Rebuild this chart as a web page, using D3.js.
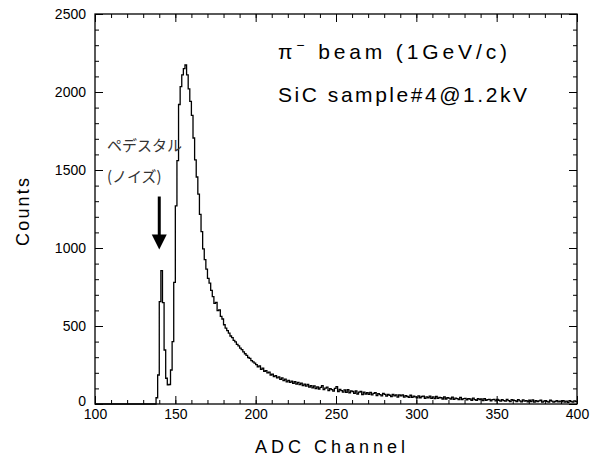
<!DOCTYPE html>
<html>
<head>
<meta charset="utf-8">
<script src="https://cdn.jsdelivr.net/npm/d3@7"></script>
<style>
  body { margin: 0; background: #fff; }
  svg { display: block; }
</style>
</head>
<body>
<div id="canvas"></div>
<script>
var WIDTH = 592, HEIGHT = 459;
var MARGIN = {left: 95, right: 15, top: 14, bottom: 55};

// histogram: counts per ADC channel, first bin starts at FIRST_CHANNEL
var FIRST_CHANNEL = 130;
var counts = [
    0, 0, 0, 0, 0, 0, 0, 0, 40, 186,
    656, 855, 650, 346, 165, 122, 125, 218, 400, 780,
    1270, 1560, 1920, 2035, 2110, 2150, 2173, 2110, 2020, 1940,
    1850, 1705, 1565, 1455, 1345, 1215, 1105, 995, 925, 865,
    805, 775, 728, 688, 645, 652, 598, 604, 562, 545,
    508, 486, 470, 454, 436, 426, 408, 398, 382, 372,
    358, 348, 334, 322, 312, 298, 292, 278, 270, 262,
    252, 238, 244, 222, 230, 210, 214, 200, 204, 186,
    192, 176, 182, 168, 174, 158, 168, 150, 160, 142,
    152, 138, 146, 132, 144, 128, 138, 124, 134, 118,
    128, 114, 126, 108, 118, 104, 116, 98, 110, 96,
    106, 118, 92, 102, 108, 86, 98, 92, 82, 100,
    112, 80, 94, 86, 76, 90, 74, 92, 72, 84,
    80, 68, 84, 64, 76, 80, 60, 76, 64, 72,
    62, 74, 58, 68, 72, 54, 66, 60, 52, 68,
    62, 50, 62, 56, 48, 62, 52, 58, 44, 58,
    52, 58, 44, 54, 48, 42, 56, 42, 50, 46,
    40, 52, 40, 48, 50, 36, 46, 40, 50, 36,
    46, 34, 48, 36, 42, 40, 32, 46, 32, 40,
    38, 32, 44, 30, 38, 34, 28, 42, 28, 34,
    36, 26, 34, 32, 24, 38, 28, 24, 34, 28,
    32, 22, 34, 24, 28, 30, 20, 28, 30, 20,
    30, 24, 18, 28, 22, 18, 30, 22, 16, 28,
    24, 22, 16, 28, 20, 14, 26, 18, 22, 14,
    24, 16, 26, 12, 22, 16, 20, 24, 12, 18,
    22, 16, 12, 24, 18, 12, 16, 22, 14, 18,
    14, 22, 12, 18, 10, 22, 16, 12, 20, 16
];

var xTicks = [100, 150, 200, 250, 300, 350, 400];
var yTicks = [0, 500, 1000, 1500, 2000, 2500];
var xDomain = [100, 400];
var yDomain = [0, 2500];

// arrow pointing at the pedestal peak: [channel, count from, count to]
var arrowChannel = 140.0;
var arrowCounts = [1330, 990];

var svg = d3.select('#canvas').append('svg')
    .attr('width', WIDTH)
    .attr('height', HEIGHT);

var x = d3.scaleLinear().domain(xDomain).range([MARGIN.left, WIDTH - MARGIN.right]);
var y = d3.scaleLinear().domain(yDomain).range([HEIGHT - MARGIN.bottom, MARGIN.top]);

var FONT = '"Liberation Sans", Arial, sans-serif';

function styleAxis(g) {
    g.select('.domain').remove();
    g.selectAll('line').attr('stroke', '#000').attr('stroke-width', 1);
    g.selectAll('text').attr('fill', '#000').style('font-family', FONT).style('font-size', '14px');
}

var minorX = d3.range(100, 401, 10);
var minorY = d3.range(0, 2501, 100);

// bottom
svg.append('g').attr('transform', 'translate(0,' + y(0) + ')')
    .call(d3.axisBottom(x).tickValues(minorX).tickSize(-4).tickFormat(''))
    .call(styleAxis);
svg.append('g').attr('transform', 'translate(0,' + y(0) + ')')
    .call(d3.axisBottom(x).tickValues(xTicks).tickSize(-8).tickPadding(5).tickFormat(d3.format('d')))
    .call(styleAxis);
// top
svg.append('g').attr('transform', 'translate(0,' + y(2500) + ')')
    .call(d3.axisTop(x).tickValues(minorX).tickSize(-4).tickFormat(''))
    .call(styleAxis);
svg.append('g').attr('transform', 'translate(0,' + y(2500) + ')')
    .call(d3.axisTop(x).tickValues(xTicks).tickSize(-8).tickFormat(''))
    .call(styleAxis);
// left
svg.append('g').attr('transform', 'translate(' + x(100) + ',0)')
    .call(d3.axisLeft(y).tickValues(minorY).tickSize(-4).tickFormat(''))
    .call(styleAxis);
var yAxisG = svg.append('g').attr('transform', 'translate(' + x(100) + ',0)')
    .call(d3.axisLeft(y).tickValues(yTicks).tickSize(-8).tickPadding(9).tickFormat(d3.format('d')))
    .call(styleAxis);
// the zero label sits a little higher, clear of the x labels
yAxisG.selectAll('.tick').filter(function(d) { return d === 0; })
    .select('text').attr('dy', '0.1em');
// right
svg.append('g').attr('transform', 'translate(' + x(400) + ',0)')
    .call(d3.axisRight(y).tickValues(minorY).tickSize(-4).tickFormat(''))
    .call(styleAxis);
svg.append('g').attr('transform', 'translate(' + x(400) + ',0)')
    .call(d3.axisRight(y).tickValues(yTicks).tickSize(-8).tickFormat(''))
    .call(styleAxis);

// frame
svg.append('rect')
    .attr('x', x(100))
    .attr('y', y(2500))
    .attr('width', x(400) - x(100))
    .attr('height', y(0) - y(2500))
    .attr('fill', 'none')
    .attr('stroke', '#000')
    .attr('stroke-width', 1.3);

// histogram as steps
var points = [{c: 100, n: 0}];
for (var i = 0; i < counts.length; ++i) {
    points.push({c: FIRST_CHANNEL + i, n: counts[i]});
}
points.push({c: 400, n: counts[counts.length - 1]});

var line = d3.line()
    .x(function(d) { return x(d.c); })
    .y(function(d) { return y(d.n); })
    .curve(d3.curveStepAfter);

svg.append('path')
    .datum(points)
    .attr('d', line)
    .attr('fill', 'none')
    .attr('stroke', '#000')
    .attr('stroke-width', 1.3);

// axis titles
svg.append('text')
    .attr('x', 330)
    .attr('y', 453)
    .attr('text-anchor', 'middle')
    .attr('textLength', 150)
    .attr('lengthAdjust', 'spacing')
    .style('font-family', FONT)
    .style('font-size', '18px')
    .text('ADC Channel');

svg.append('text')
    .attr('transform', 'translate(29,212) rotate(-90)')
    .attr('text-anchor', 'middle')
    .attr('textLength', 68)
    .attr('lengthAdjust', 'spacing')
    .style('font-family', FONT)
    .style('font-size', '18px')
    .text('Counts');

// labels in the plot
var t1 = svg.append('text')
    .attr('x', 278)
    .attr('y', 59)
    .attr('textLength', 229)
    .attr('lengthAdjust', 'spacing')
    .style('font-family', FONT)
    .style('font-size', '21px');
t1.append('tspan').text('π');
t1.append('tspan').attr('dy', -9).style('font-size', '14px').text('−');
t1.append('tspan').attr('dy', 9).text(' beam (1GeV/c)');

svg.append('text')
    .attr('x', 278)
    .attr('y', 102)
    .attr('textLength', 249)
    .attr('lengthAdjust', 'spacing')
    .style('font-family', FONT)
    .style('font-size', '21px')
    .text('SiC sample#4@1.2kV');

var JP = '"Noto Sans CJK JP", sans-serif';
svg.append('text')
    .attr('x', 107)
    .attr('y', 151)
    .attr('fill', '#333')
    .style('font-family', JP)
    .style('font-size', '15px')
    .text('ペデスタル');
svg.append('text')
    .attr('x', 107)
    .attr('y', 182)
    .attr('fill', '#333')
    .style('font-family', JP)
    .style('font-size', '15px')
    .text('(ノイズ)');

// arrow
var ax = x(arrowChannel);
svg.append('line')
    .attr('x1', ax).attr('x2', ax)
    .attr('y1', y(arrowCounts[0]))
    .attr('y2', y(arrowCounts[1]) - 12)
    .attr('stroke', '#000')
    .attr('stroke-width', 3);
svg.append('path')
    .attr('d', 'M' + (ax - 7.5) + ',' + (y(arrowCounts[1]) - 15) +
               'L' + (ax + 7.5) + ',' + (y(arrowCounts[1]) - 15) +
               'L' + ax + ',' + y(arrowCounts[1]) + 'Z')
    .attr('fill', '#000');
</script>
</body>
</html>
